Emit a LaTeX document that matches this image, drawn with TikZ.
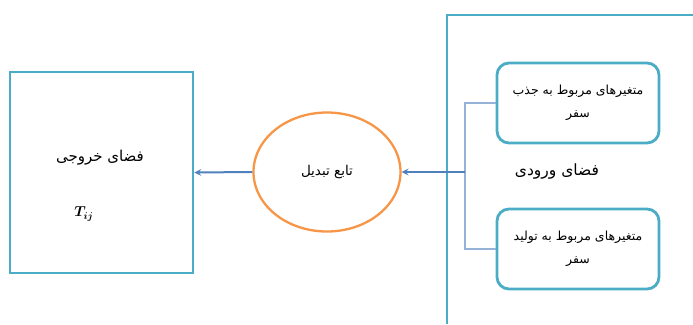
\documentclass[tikz,border=0pt]{standalone}
\usepackage{amsmath}
\usepackage{fontspec}
\newfontfamily\arabicfont[Script=Arabic]{DejaVu Sans}
\TeXXeTstate=1
\usepackage{xcolor}
\usetikzlibrary{shapes.geometric,arrows}
\definecolor{myteal}{RGB}{75,172,198}
\definecolor{myorange}{RGB}{247,150,70}
\definecolor{myblue}{RGB}{79,129,189}
\definecolor{mylight}{RGB}{149,179,215}
\tikzstyle{arrow} = [line width=2pt,->,>=stealth,color=myblue]
\tikzstyle{fa} = [font=\arabicfont\fontsize{12.5}{23}\selectfont]
\tikzstyle{tealbox} = [draw=myteal,line width=2.8pt]
\tikzstyle{varbox} = [tealbox,rounded corners=12pt,minimum width=162pt,minimum height=80pt,align=center]

\begin{document}
\begin{tikzpicture}[x=1pt,y=-1pt]
            \useasboundingbox (0,0) rectangle (693,324);
            % output space
            \node[tealbox,minimum width=183pt,minimum height=201pt] (out) at (101.5,172.5) {};
            \node[fa,font=\arabicfont\fontsize{15}{20}\selectfont] (outtxt) at (100,158) {\beginR فضای خروجی\endR};
            \node[font=\Large] (tij) at (84,214) {$\boldsymbol{T_{ij}}$};
            % transfer function
            \node[ellipse,draw=myorange,line width=2.3pt,minimum width=147pt,minimum height=119pt,fa,font=\arabicfont\fontsize{13.5}{20}\selectfont] (tf) at (327,172) {\beginR تابع تبدیل\endR};
            % input space
            \coordinate (fa) at (447,324);
            \coordinate (fb) at (447,15);
            \coordinate (fc) at (693,15);
            \draw[tealbox] (fa) -- (fb) -- (fc);
            \node[varbox,fa] (attr) at (578,103) {\beginR متغیرهای مربوط به جذب\endR\\\beginR سفر\endR};
            \node[varbox,fa] (prod) at (578,249) {\beginR متغیرهای مربوط به تولید\endR\\\beginR سفر\endR};
            \node[fa,font=\arabicfont\fontsize{15.5}{20}\selectfont] (intxt) at (557,172) {\beginR فضای ورودی\endR};
            \coordinate (br) at (465,172);
            \draw[mylight,line width=2pt] (attr.west) -| (br) |- (prod.west);
            % arrows
            \draw[arrow] (br) -- (tf.east);
            \draw[arrow] (tf.west) -- (out.east);
        \end{tikzpicture}
\end{document}
